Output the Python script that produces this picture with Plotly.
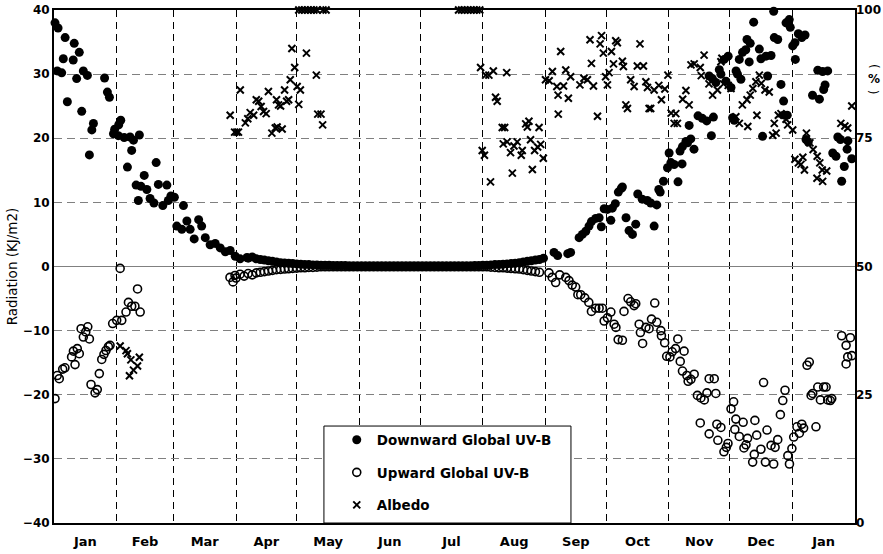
import pandas as pd
import plotly.graph_objects as go

BASE = pd.Timestamp("2001-01-01")

# ---- Downward Global UV-B (kJ/m2), day offset from Jan 1 ----
down_days = [0.5, 1.6, 2, 3.8, 4.6, 5.5, 6.6, 9.5, 10, 11.2, 12.5, 13.7, 14.5, 16.5, 17.5, 18.7, 19.5,
             25, 26.4, 27.4, 29.4, 30, 31.8, 32, 33, 34.7, 36.3, 37.6, 38.4, 39.3, 40.6, 41.7, 42.2, 43,
             44.6, 45.9, 47.5, 49.4, 50.5, 51.6, 53.8, 55.8, 56.5, 57.8, 59.5, 60.7, 63.2, 64, 65.7, 67.3,
             69.3, 71.5, 73, 74.8, 77.2, 79.7, 82.2, 84.7, 87.1, 89.6, 92, 95.4,
             247.2, 249, 254, 255.4, 259.6, 261.2, 262.9, 264.5, 265.7, 267.8, 269.5, 270.6, 272, 273.6,
             275.3, 276, 277.5, 279, 280.5, 281, 282.8, 284.3, 286, 287.6, 288.6, 290.8, 293.3, 295, 296.7,
             298, 299, 299.7, 301.3, 303.3, 304.1, 305, 306.6, 308.5, 309.5, 310.5, 310.7, 312.4, 313.2,
             314, 314.8, 316.4, 318.4, 320.5, 322.7, 323.9, 325, 325.5, 326, 327.2, 328.9, 329.7, 331.3,
             332.2, 333.3, 334.7, 335.5, 336.3, 337.2, 337.9, 338.8, 339.6, 340.4, 342, 342.6, 343.7, 344.2,
             345.9, 348.7, 349.5, 350.3, 352, 352.8, 354.5, 355.8, 356.1, 357.8, 359.4, 360.7, 361.1, 361.9,
             362.5, 363.5, 364, 365.2, 366.3, 366.5, 368, 369.7, 371.3, 371.8, 372.9, 375, 377.6, 378.4,
             380, 380.5, 381.2, 382.5, 385, 386.6, 387.5, 388.8, 389.4, 390.7, 392.1, 392.5, 394.4]
down_vals = [38.0, 30.5, 37.2, 30.2, 32.4, 35.7, 25.7, 32.2, 34.8, 29.3, 33.4, 24.2, 30.5, 29.8, 17.4, 21.3, 22.3,
             29.4, 27.2, 26.4, 20.7, 21.4, 20.4, 22.1, 22.8, 20.1, 15.5, 20.2, 18.1, 19.7, 12.7, 10.3, 20.5, 12.5,
             14.2, 12.0, 10.6, 9.9, 16.2, 12.8, 9.5, 12.7, 10.3, 11.0, 10.8, 6.3, 5.8, 9.5, 7.1, 5.8,
             4.3, 7.3, 6.3, 4.5, 3.4, 3.6, 2.9, 2.3, 2.5, 1.6, 1.2, 1.4,
             2.2, 1.7, 2.0, 2.2, 4.5, 5.0, 5.5, 6.3, 7.0, 7.5, 7.6, 6.2, 9.0, 8.9,
             7.2, 9.1, 9.8, 11.6, 12.2, 12.4, 7.6, 5.6, 5.0, 6.6, 11.3, 10.5, 10.3, 9.9, 6.3,
             9.6, 12.0, 11.6, 13.3, 15.4, 17.7, 16.2, 15.9, 13.2, 18.0, 16.0, 18.7, 19.5, 19.3,
             22.0, 19.9, 18.3, 23.5, 23.1, 22.7, 29.7, 20.4, 29.3, 23.3, 28.7, 30.7, 30.0, 32.3,
             28.9, 32.8, 27.9, 23.2, 22.8, 30.5, 30.0, 32.3, 29.2, 33.4, 33.8, 35.4, 31.9, 34.8,
             38.1, 33.9, 32.4, 20.3, 32.8, 29.7, 32.9, 39.8, 35.7, 35.4, 28.4, 25.8, 23.6, 38.0,
             23.6, 38.5, 37.3, 34.4, 34.9, 32.3, 36.3, 35.7, 36.1, 19.8, 19.4, 26.7, 30.6, 26.1,
             30.4, 27.6, 28.3, 30.5, 17.7, 17.2, 20.2, 19.8, 13.3, 15.6, 18.3, 19.6, 16.8]

# near-zero summer band, every second day from day 96 to 242
down_band_days = list(range(96, 243, 2))
down_band_vals = [1.3, 1.5, 1.2, 1.1, 1.0, 0.9, 0.8, 0.7, 0.6, 0.55, 0.5, 0.45, 0.4, 0.35, 0.3, 0.3, 0.25,
                  0.25, 0.2, 0.2, 0.2, 0.15, 0.15, 0.15, 0.15,
                  0.1, 0.1, 0.1, 0.1, 0.1, 0.1, 0.1, 0.1, 0.1, 0.1, 0.1, 0.1, 0.1, 0.1, 0.1, 0.1,
                  0.1, 0.1, 0.1, 0.1, 0.1, 0.1, 0.1, 0.1, 0.1, 0.1, 0.1, 0.1, 0.1, 0.1, 0.1,
                  0.15, 0.15, 0.2, 0.2, 0.25, 0.3, 0.3, 0.35, 0.4, 0.45, 0.5, 0.6, 0.7, 0.8, 0.9, 1.0, 1.1, 1.3]

# ---- Upward Global UV-B (kJ/m2, plotted negative) ----
up_days = [0.5, 1.6, 2.6, 4.3, 5.4, 8.7, 9.6, 10.4, 11.5, 12.5, 13.4, 14.5, 15.7, 16.7, 17.5, 18.3, 20.3,
           21.4, 22.4, 23.6, 24.7, 25.7, 26.9, 27.7, 29, 31, 32.7, 33.5, 35.6, 36.8, 38.4, 40, 41.3, 42.6,
           87, 88.5, 89.5,
           244.7, 246.3, 248, 250, 253, 254.6, 256.2, 257.9, 259, 260.4, 262.4, 264.4, 265.7, 267.8, 269.5,
           271.1, 272, 273.6, 275.3, 276.9, 277.8, 278.9, 281, 281.8, 283.8, 285.1, 286.8, 287.6, 289.3,
           289.9, 291, 292.6, 294.2, 295.4, 297, 298, 300, 300.3, 301.9, 302.9, 304.5, 305.6, 307.3, 308.4,
           309.6, 310.7, 311.5, 312.9, 313.5, 314.9, 316.5, 318.1, 319.5, 319.8, 321.5, 322.8, 323.9,
           323.9, 326.4, 327.2, 327.7, 328.2, 329.7, 331.2, 332.4, 333.2, 334.7, 336, 336.6, 337.1, 338.8,
           340.7, 341.1, 342.1, 342.9, 345.4, 346.2, 346.5, 347.4, 349.5, 350.8, 351.7, 352.5, 354.5,
           355.8, 356.5, 357.8, 359.1, 360.3, 361.4, 362.8, 363.6, 364.8, 365.7, 367.3, 368.5, 369.7,
           370.6, 372.3, 373.4, 374.3, 375.1, 376.7, 377.6, 378.9, 380.5, 381.7, 382.5, 383.8, 384.5,
           389.4, 391.6, 391.6, 392.4, 393.7, 394.4]
up_vals = [-20.6, -17.0, -17.5, -16.0, -15.8, -14.1, -13.2, -15.3, -12.8, -13.6, -9.7, -11.0, -10.2, -9.4, -11.3,
           -18.4, -19.7, -19.2, -16.7, -14.5, -13.7, -13.1, -12.5, -12.3, -8.9, -8.4, -0.3, -8.4, -7.1, -5.6,
           -6.2, -6.2, -3.5, -7.1,
           -1.7, -2.4, -1.4,
           -1.0, -1.7, -2.5, -1.3, -1.7, -2.2, -2.9, -3.2, -4.4, -4.4, -4.9, -5.6, -7.0, -6.5, -6.5,
           -6.5, -8.5, -8.0, -7.1, -9.0, -9.5, -11.4, -11.5, -7.0, -5.0, -5.5, -6.1, -5.8, -9.0,
           -10.3, -12.0, -9.5, -9.7, -8.2, -5.7, -8.7, -10.0, -10.8, -11.9, -14.0, -14.1, -13.3, -12.8, -11.3,
           -14.8, -16.3, -13.2, -17.0, -17.9, -17.6, -16.8, -20.1, -24.4, -20.5, -20.8, -19.7, -17.5,
           -26.1, -17.5, -19.8, -24.6, -27.1, -25.1, -28.9, -28.2, -27.6, -22.2, -21.1, -25.4, -23.8, -26.5,
           -24.3, -28.3, -27.8, -26.8, -30.5, -29.3, -24.0, -26.3, -28.5, -18.1, -30.5, -25.5, -27.9,
           -30.8, -28.2, -27.0, -23.1, -20.9, -19.3, -29.5, -30.8, -28.4, -26.6, -25.0, -26.0, -24.6,
           -25.2, -15.4, -14.9, -20.1, -19.8, -25.0, -18.8, -20.8, -18.8, -18.8, -20.8, -20.9, -20.6,
           -10.8, -12.3, -15.2, -14.1, -11.1, -13.9]

up_band_days = list(range(90, 241, 2))
up_band_vals = [-1.8, -1.2, -1.5, -1.1, -1.3, -1.0, -0.9, -0.8, -0.7, -0.6, -0.5, -0.45, -0.4, -0.35, -0.3,
                -0.25, -0.2, -0.2, -0.15, -0.15, -0.1,
                -0.05, -0.05, -0.05, -0.05, -0.05, -0.05, -0.05, -0.05, -0.05, -0.05, -0.05, -0.05, -0.05, -0.05,
                -0.05, -0.05, -0.05, -0.05, -0.05, -0.05, -0.05, -0.05, -0.05, -0.05, -0.05, -0.05, -0.05, -0.05,
                -0.05, -0.05, -0.05, -0.05, -0.05, -0.05, -0.05, -0.05, -0.05, -0.05, -0.05, -0.05, -0.05, -0.05,
                -0.1, -0.15, -0.2, -0.2, -0.25, -0.3, -0.35, -0.4, -0.5, -0.6, -0.7, -0.8, -0.9]

# ---- Albedo (%) ----
alb_days = [32.7, 35.6, 36.3, 37.3, 38, 39.3, 41.3, 42.2,
            87.1, 89.3, 90.4, 91.2, 92.1, 94.6, 95.8, 97, 98.7, 100, 101.2, 102.4, 103.6, 104.9, 106, 107.7,
            109.4, 110, 110.3, 111, 112, 112.8, 114, 115, 116, 116.8, 117.6, 119, 120.2, 121, 121.8, 124.8,
            129.7, 130.4, 132, 132.8,
            121, 122.5, 124, 125.5, 127, 128.5, 130, 133, 134.5,
            200, 201.5, 203, 204.5, 206, 207.5, 209, 210.5,
            210.9, 211.7, 212.8, 213.4, 215, 215.8, 217.2, 218.3, 219.1, 221.6, 222.1, 222.8, 223.8, 224,
            225.7, 226.6, 227.4, 229, 231, 231.5, 233.2, 234, 234.8, 235.6, 236.5, 237.6, 239.1, 239.8,
            240.6, 241.9,
            243, 244.8, 246.4, 248.6, 249.2, 249.3, 250.5, 251.9, 253, 254.3, 255.4, 260, 262, 263.7, 265,
            265.7, 266.7, 268.7, 270, 270.7, 271.6, 272.7, 273.6, 274.4, 275.6, 276.6, 277.7, 278.5, 281,
            281.5, 282.7, 283.5, 285.1, 286.8, 288.4, 289.7, 291.4,
            292.6, 293.4, 294.2, 295, 296.7, 299, 300.3, 302, 303.5, 305.1, 306.6, 307.4, 308.2, 310.8,
            312.4, 314, 314.9, 316.5, 319.5, 320, 321.4, 323.8, 325.6, 328, 329.7, 330.2, 331, 333.3, 334.7,
            337.1, 338.8, 340.3, 342.6, 343, 344.2, 345.5, 347, 347.5, 348.7, 349.7, 351.5, 353.6, 355.3,
            356.1, 357, 358.1, 359.4, 361.9, 362.7, 365.2, 366.3, 368, 369.3, 370.2, 371, 372, 373.7,
            375.3, 377.2, 377.3, 378.6, 379.8, 380, 382, 389, 391, 392.4, 394.4]
alb_vals = [34.5, 33.6, 33.0, 28.7, 31.8, 29.8, 30.6, 32.3,
            79.5, 76.2, 76.2, 76.2, 84.4, 78.0, 78.8, 80.0, 79.5, 82.5, 82.2, 81.2, 80.2, 79.8, 84.1, 76.0,
            77.0, 82.5, 77.2, 81.5, 81.3, 76.8, 84.4, 82.2, 82.5, 86.4, 92.5, 88.8, 85.1, 81.6, 84.4, 91.6,
            87.3, 79.7, 79.7, 77.6,
            100, 100, 100, 100, 100, 100, 100, 100, 100,
            100, 100, 100, 100, 100, 100, 100, 100,
            88.8, 72.6, 71.7, 87.3, 87.3, 66.5, 88.1, 83.0, 82.2, 77.1, 73.9, 77.1, 87.8, 74.3,
            72.2, 68.2, 73.5, 74.3, 71.7, 72.6, 77.8, 77.2, 78.3, 74.7, 68.9, 72.6, 73.3, 77.1,
            73.8, 71.1,
            86.4, 86.2, 88.0, 85.1, 83.4, 79.7, 91.9, 85.2, 88.3, 82.8, 87.0, 85.4, 86.7, 86.4, 94.2,
            89.6, 85.2, 79.3, 93.4, 95.0, 91.6, 87.0, 85.4, 87.8, 91.9, 89.5, 94.0, 93.6, 90.0,
            89.0, 81.5, 80.8, 86.4, 85.1, 89.1, 93.4, 89.1,
            86.0, 84.9, 80.8, 80.8, 84.4, 85.3, 82.5, 84.6, 87.3, 79.9, 77.9, 79.8, 77.9, 82.6,
            84.3, 81.5, 89.3, 89.5, 88.8, 87.2, 91.2, 85.6, 83.4, 84.4, 89.9, 90.6, 85.6, 85.3, 84.7,
            79.2, 77.9, 81.5, 82.5, 77.3, 83.4, 84.7, 86.0, 79.5, 87.3, 85.7, 84.4, 84.0, 75.6,
            77.9, 76.0, 79.5, 79.8, 78.7, 77.6, 76.6, 70.9, 70.2, 69.9, 71.3, 68.8, 76.0, 74.1,
            72.8, 67.2, 71.5, 70.2, 68.8, 66.6, 68.6, 77.9, 77.4, 77.0, 81.3]

month_start = "2001-01-01"
month_end = "2002-02-01"


def to_dates(days):
    return BASE + pd.to_timedelta(pd.Series(days, dtype=float), unit="D")


FONT = "DejaVu Sans, Liberation Sans, Arial, sans-serif"

fig = go.Figure()
fig.add_trace(go.Scatter(
    x=to_dates(down_days + down_band_days), y=down_vals + down_band_vals,
    mode="markers", name="Downward Global UV-B", legendgroup="a",
    marker=dict(symbol="circle", size=9, color="black"), cliponaxis=False))
fig.add_trace(go.Scatter(
    x=to_dates(up_days + up_band_days), y=up_vals + up_band_vals,
    mode="markers", name="Upward Global UV-B", legendgroup="b",
    marker=dict(symbol="circle-open", size=8, color="black", line=dict(width=1.6, color="black"))))
fig.add_trace(go.Scatter(
    x=to_dates(alb_days), y=alb_vals, yaxis="y2",
    mode="markers", name="Albedo", legendgroup="c", cliponaxis=False,
    marker=dict(symbol="x-thin", size=7, color="black", line=dict(width=2, color="black"))))

fig.update_layout(
    width=883, height=554,
    margin=dict(l=54, r=28, t=10, b=31),
    paper_bgcolor="white", plot_bgcolor="white",
    font=dict(family=FONT, color="black", size=12),
    showlegend=True,
    xaxis=dict(
        type="date", range=[month_start, month_end], dtick="M1", tick0=month_start,
        ticklabelmode="period", tickformat="%b", ticks="", ticklabelstandoff=5, automargin=False,
        showgrid=True, gridcolor="black", gridwidth=1, griddash="7px,5px",
        showline=True, linecolor="black", linewidth=2, mirror=True,
        tickfont=dict(size=13, family=FONT, weight="bold"),
    ),
    yaxis=dict(
        range=[-40, 40], dtick=10, tick0=0, ticks="", automargin=False,
        showgrid=True, gridcolor="#808080", gridwidth=1, griddash="8px,5px",
        zeroline=True, zerolinecolor="#808080", zerolinewidth=1,
        showline=True, linecolor="black", linewidth=2, mirror=True,
        title=dict(text="Radiation (KJ/m2)", font=dict(size=13.5, family=FONT), standoff=2),
        tickfont=dict(size=12, family=FONT, weight="bold"),
    ),
    yaxis2=dict(
        range=[0, 100], dtick=25, tick0=0, ticks="", automargin=False,
        overlaying="y", side="right", showgrid=False, zeroline=False, showline=False,
        tickfont=dict(size=12, family=FONT, weight="bold"),
    ),
    legend=dict(
        x=0.353, y=0.192, xanchor="left", yanchor="top",
        bgcolor="rgba(0,0,0,0)", borderwidth=0,
        tracegroupgap=12,
        font=dict(size=13.5, family=FONT, color="black", weight="bold"),
    ),
    shapes=[dict(
        type="rect", xref="paper", yref="paper",
        x0=0.337, x1=0.6454, y0=0, y1=0.189,
        fillcolor="white", line=dict(color="black", width=1), layer="above",
    )],
    annotations=[
        dict(text="(", xref="paper", yref="paper", x=1.0235, y=0.889, textangle=90,
             xanchor="center", yanchor="middle",
             showarrow=False, font=dict(size=12, family=FONT, color="black")),
        dict(text="%", xref="paper", yref="paper", x=1.0235, y=0.865,
             xanchor="center", yanchor="middle",
             showarrow=False, font=dict(size=12, family=FONT, color="black", weight="bold")),
        dict(text=")", xref="paper", yref="paper", x=1.0235, y=0.839, textangle=90,
             xanchor="center", yanchor="middle",
             showarrow=False, font=dict(size=12, family=FONT, color="black")),
    ],
)

fig.write_html("out.html")
